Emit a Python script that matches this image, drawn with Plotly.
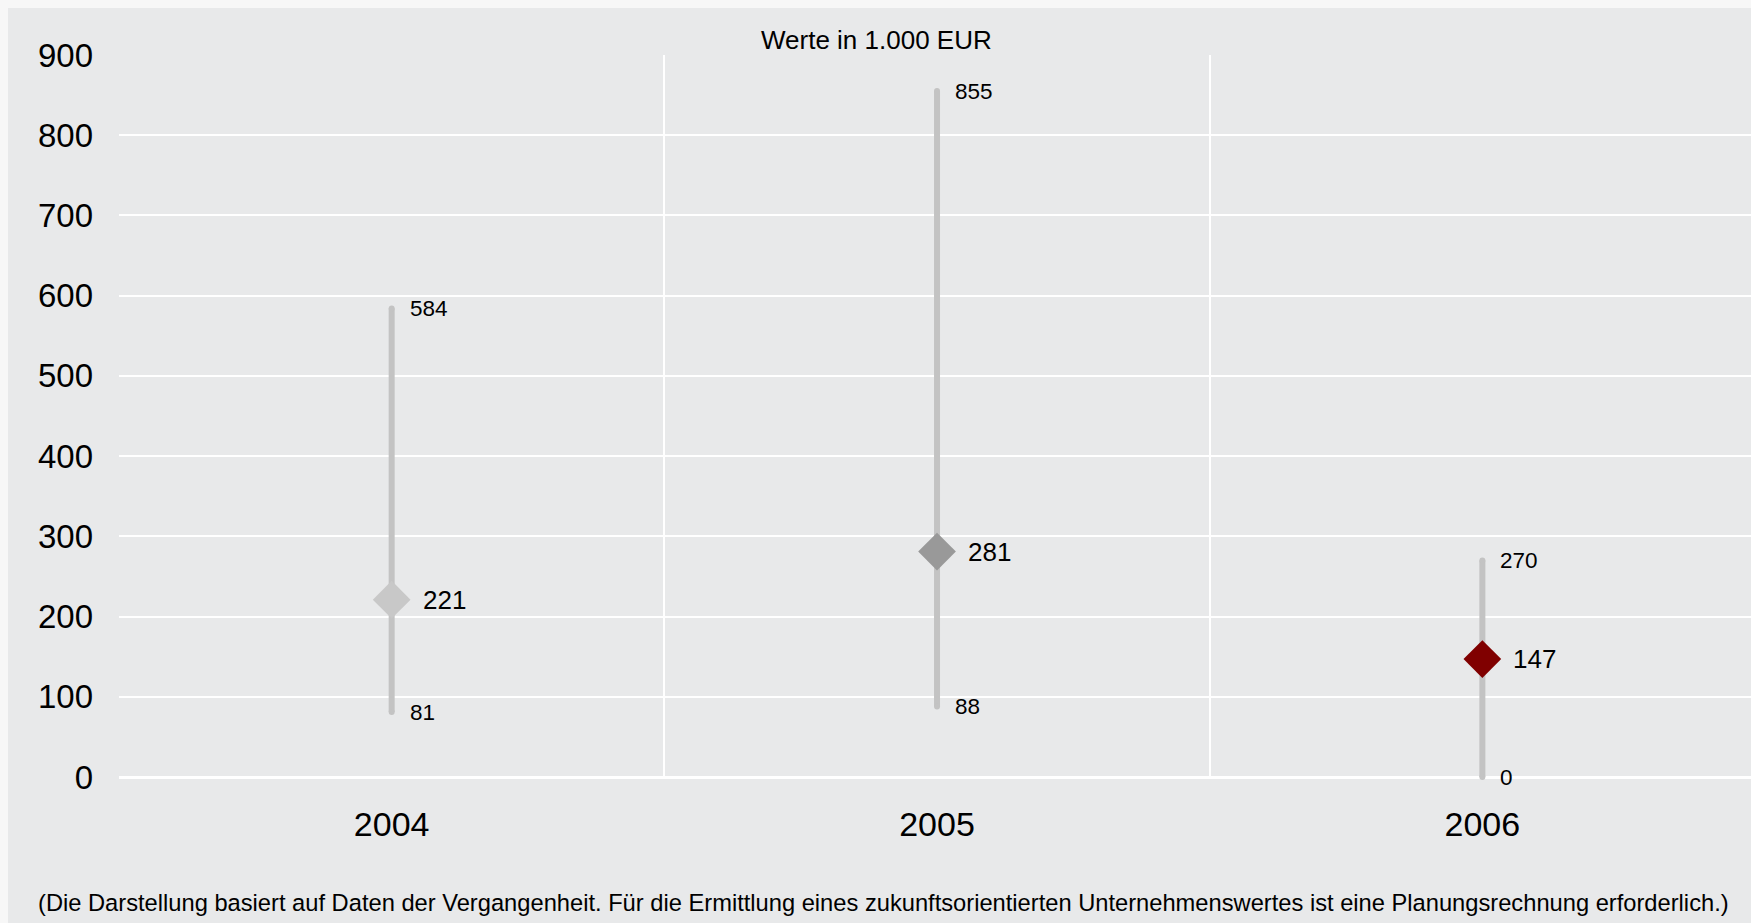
import plotly.graph_objects as go

years = ["2004", "2005", "2006"]
min_vals = [81, 88, 0]
max_vals = [584, 855, 270]
mean_vals = [221, 281, 147]
marker_colors = ["#c8c8c8", "#999999", "#800000"]
y_ticks = [0, 100, 200, 300, 400, 500, 600, 700, 800, 900]

title_text = "Werte in 1.000 EUR"
footnote = ("(Die Darstellung basiert auf Daten der Vergangenheit. Für die Ermittlung eines "
            "zukunftsorientierten Unternehmenswertes ist eine Planungsrechnung erforderlich.)")

FONT = "Liberation Sans, Arial, sans-serif"
LINE_COL = "#c3c3c3"
EDGE_COL = "#f7f7f7"

W, H = 1751, 923
L, R, T, B = 119, 0, 55, 146
pw, ph = W - L - R, H - T - B


def px_x(p):
    return (p - L) / pw


def px_y(p):
    return (H - B - p) / ph


fig = go.Figure()

for i, yr in enumerate(years):
    fig.add_trace(go.Scatter(
        x=[i, i], y=[min_vals[i], max_vals[i]],
        mode="lines+markers",
        line=dict(color=LINE_COL, width=6),
        marker=dict(color=LINE_COL, size=6, symbol="circle"),
        cliponaxis=False, showlegend=False, hoverinfo="skip"))

fig.add_trace(go.Scatter(
    x=list(range(len(years))), y=mean_vals, mode="markers",
    marker=dict(symbol="diamond", size=29, color=marker_colors, line=dict(width=0)),
    cliponaxis=False, showlegend=False))

annotations = []
for i, yr in enumerate(years):
    for v in (min_vals[i], max_vals[i]):
        annotations.append(dict(x=i, y=v, xref="x", yref="y", text=str(v),
                                showarrow=False, xanchor="left", yanchor="middle",
                                xshift=16, font=dict(family=FONT, size=22.5, color="#000")))
    annotations.append(dict(x=i, y=mean_vals[i], xref="x", yref="y", text=str(mean_vals[i]),
                            showarrow=False, xanchor="left", yanchor="middle",
                            xshift=29, font=dict(family=FONT, size=26, color="#000")))

annotations.append(dict(x=px_x(876), y=px_y(40), xref="paper", yref="paper", text=title_text,
                        showarrow=False, xanchor="center", yanchor="middle",
                        font=dict(family=FONT, size=26, color="#000")))
annotations.append(dict(x=px_x(36), y=px_y(903), xref="paper", yref="paper", text=footnote,
                        showarrow=False, xanchor="left", yanchor="middle",
                        font=dict(family=FONT, size=23.7, color="#000")))

shapes = [
    dict(type="rect", xref="paper", yref="paper", x0=px_x(0), x1=px_x(W), y0=px_y(8), y1=px_y(0),
         fillcolor=EDGE_COL, line=dict(width=0), layer="above"),
    dict(type="rect", xref="paper", yref="paper", x0=px_x(0), x1=px_x(8), y0=px_y(H), y1=px_y(0),
         fillcolor=EDGE_COL, line=dict(width=0), layer="above"),
]

fig.update_layout(
    width=W, height=H,
    margin=dict(l=L, r=R, t=T, b=B, pad=0),
    paper_bgcolor="#e8e9ea", plot_bgcolor="#e8e9ea",
    font=dict(family=FONT, color="#000"),
    annotations=annotations, shapes=shapes,
    xaxis=dict(range=[-0.5, 2.4926], tickvals=list(range(len(years))), ticktext=years,
               showgrid=False, ticks="", showline=False, zeroline=False,
               minor=dict(tickvals=[-0.5, 0.5, 1.5, 2.5], showgrid=True,
                          gridcolor="white", gridwidth=2, ticks=""),
               tickfont=dict(family=FONT, size=34, color="#000"),
               ticklabelstandoff=24),
    yaxis=dict(range=[0, 900], tickvals=y_ticks, showgrid=True, gridcolor="white", gridwidth=2,
               zeroline=True, zerolinecolor="white", zerolinewidth=3,
               ticks="", showline=False,
               tickfont=dict(family=FONT, size=33, color="#000"),
               ticklabelstandoff=25),
)

fig.write_html("out.html", config={"displayModeBar": False},
               post_script="document.body.style.margin='0';")
